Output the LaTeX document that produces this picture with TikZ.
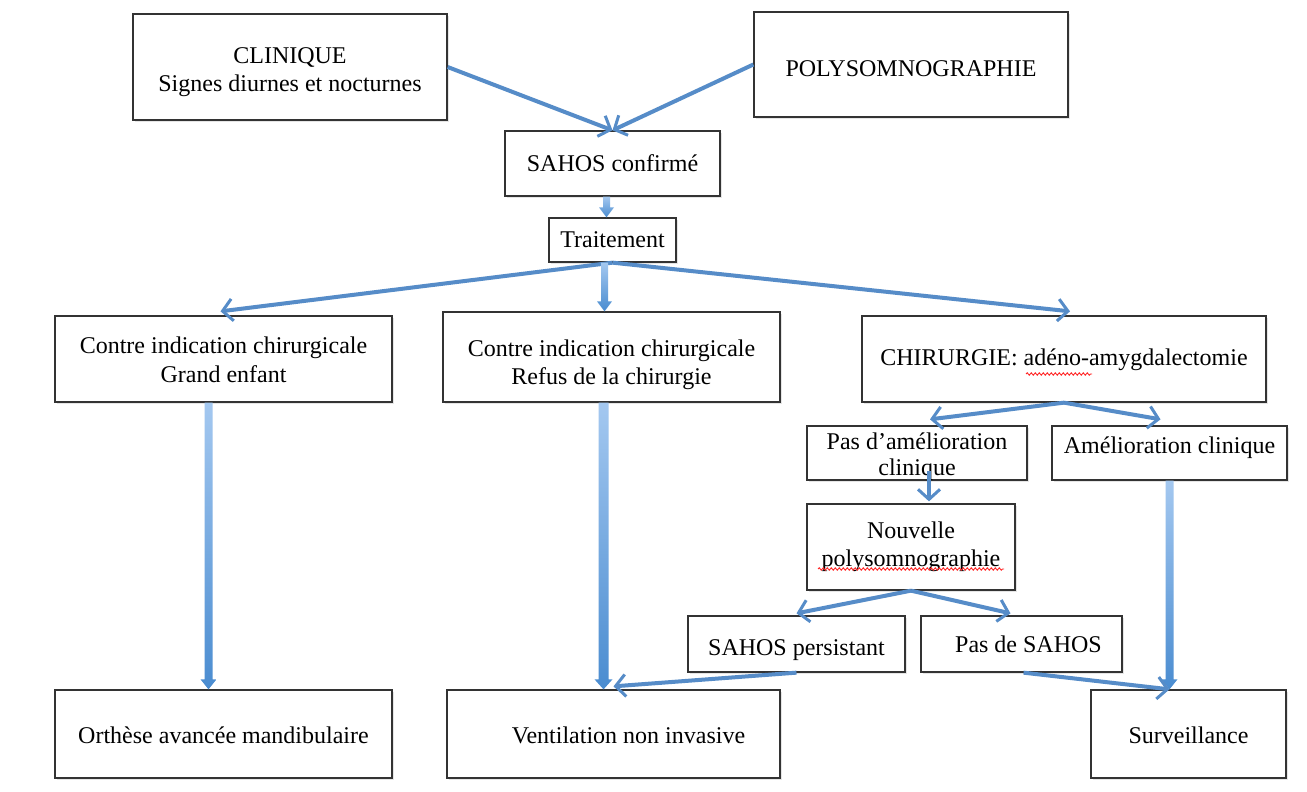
\documentclass[tikz,border=0pt]{standalone}
\usepackage{fontspec}
\setmainfont{Liberation Serif}
\usetikzlibrary{arrows.meta,shadows,calc,decorations.pathmorphing}

\definecolor{flowblue}{RGB}{86,140,200}
\definecolor{flowlight}{RGB}{164,200,240}
\definecolor{flowdark}{RGB}{74,140,208}

% thick shaded vertical arrow: start, end, half width
\newcommand{\vflow}[3]{%
  \shade[top color=flowlight, bottom color=flowdark]
    ($(#1)+(-#3,0)$) -- ($(#1)+(#3,0)$) -- ($(#2)+(#3,-10)$) -- ($(#2)+(#3+4,-10)$)
    -- (#2) -- ($(#2)+(-#3-4,-10)$) -- ($(#2)+(-#3,-10)$) -- cycle;}
% box text, lowered by #1 without changing the box
\newcommand{\boxtxt}[2]{\raisebox{-#1}[\height][\depth]{\begin{tabular}{@{}c@{}}#2\end{tabular}}}

\tikzset{
  box/.style={draw=black!80, line width=1.3pt, fill=white, align=center, inner sep=1pt,
    font=\fontsize{24}{28.5}\selectfont,
    drop shadow={shadow xshift=1.5pt, shadow yshift=-2pt, opacity=0.2}},
  flow/.style={draw=flowblue, line width=4pt,
    -{Straight Barb[length=10pt,width=22pt,line width=3pt]}},
  spell/.style={draw=red!85, line width=0.9pt, decorate,
    decoration={snake, amplitude=1.2pt, segment length=4pt}}
}

\begin{document}
\begin{tikzpicture}[x=1pt,y=-1pt]
\fill[white] (0,0) rectangle (1307,792);
\useasboundingbox (0,0) rectangle (1307,792);

%Boxes
\node[box, minimum width=314, minimum height=106] (clin) at (290,67) {\boxtxt{5pt}{CLINIQUE\\Signes diurnes et nocturnes}};
\node[box, minimum width=314, minimum height=105] (poly) at (911,64.5) {\boxtxt{6pt}{POLYSOMNOGRAPHIE}};
\node[box, minimum width=215, minimum height=65] (sahos) at (612.5,163.5) {\boxtxt{2pt}{SAHOS confirmé}};
\node[box, minimum width=127, minimum height=44] (trait) at (612.5,240) {\boxtxt{2pt}{Traitement}};
\node[box, minimum width=337, minimum height=86] (ci1) at (223.5,359) {\boxtxt{3.5pt}{Contre indication chirurgicale\\Grand enfant}};
\node[box, minimum width=337, minimum height=90] (ci2) at (611.5,357) {\boxtxt{8pt}{Contre indication chirurgicale\\Refus de la chirurgie}};
\node[box, minimum width=404, minimum height=86] (chir) at (1064,359) {\boxtxt{1pt}{CHIRURGIE: adéno-amygdalectomie}};
\node[box, inner sep=0pt, minimum width=220, minimum height=54] (pasam) at (917,453) {\renewcommand{\arraystretch}{0.93}\boxtxt{4pt}{Pas d’amélioration\\clinique}};
\node[box, minimum width=235, minimum height=54] (amel) at (1169.5,453) {\boxtxt{-5pt}{Amélioration clinique}};
\node[box, minimum width=208, minimum height=86] (nouv) at (911,547) {\boxtxt{0pt}{Nouvelle\\polysomnographie}};
\node[box, minimum width=217, minimum height=56] (sp) at (796.5,644) {\boxtxt{6pt}{SAHOS persistant}};
\node[box, minimum width=201, minimum height=56] (pds) at (1021.5,644) {\boxtxt{3pt}{\hspace{14pt}Pas de SAHOS}};
\node[box, minimum width=337, minimum height=88] (ortho) at (223.5,734) {\boxtxt{4pt}{Orthèse avancée mandibulaire}};
\node[box, minimum width=333, minimum height=88] (vent) at (613.5,734) {\boxtxt{4pt}{\hspace{30pt}Ventilation non invasive}};
\node[box, minimum width=195, minimum height=88] (surv) at (1188.5,734) {\boxtxt{4pt}{Surveillance}};

%Spelling marks
\draw[spell] (1026,374) -- (1092,374);
\draw[spell] (818,569) -- (1004,569);

%Connectors
\draw[flow] (clin.east) -- (sahos.north);
\draw[flow] (poly.west) -- (sahos.north);
\coordinate (s1) at ($(sahos.south)+(-6,0)$);
\coordinate (s1e) at (s1 |- trait.north);
\vflow{s1}{s1e}{3.5}
\draw[flow] (trait.south) -- ($(ci1.north)+(-3,-4)$);
\draw[flow] (trait.south) -- ($(chir.north)+(6,-4)$);
\coordinate (t1) at ($(trait.south)+(-8,0)$);
\coordinate (t1e) at (t1 |- ci2.north);
\vflow{t1}{t1e}{3.5}
\coordinate (c1) at ($(ci1.south)+(-15,0)$);
\coordinate (c1e) at (c1 |- ortho.north);
\vflow{c1}{c1e}{4}
\coordinate (c2) at ($(ci2.south)+(-8,0)$);
\coordinate (c2e) at (c2 |- vent.north);
\vflow{c2}{c2e}{5}
\draw[flow] (chir.south) -- ($(pasam.north)+(13,-6)$);
\draw[flow] (chir.south) -- ($(amel.north)+(-9,-6)$);
\draw[flow] ($(pasam.south)+(12,-10)$) -- ($(nouv.north)+(18,-2)$);
\coordinate (a1) at (amel.south);
\coordinate (a1e) at (a1 |- surv.north);
\vflow{a1}{a1e}{4}
\draw[flow] (nouv.south) -- ($(sp.north)+(0,-2)$);
\draw[flow] (nouv.south) -- ($(pds.north)+(-11,-2)$);
\draw[flow] (sp.south) -- ($(vent.north)+(0,-3)$);
\draw[flow] ($(pds.south)+(2,0)$) -- (a1e);
\end{tikzpicture}
\end{document}
